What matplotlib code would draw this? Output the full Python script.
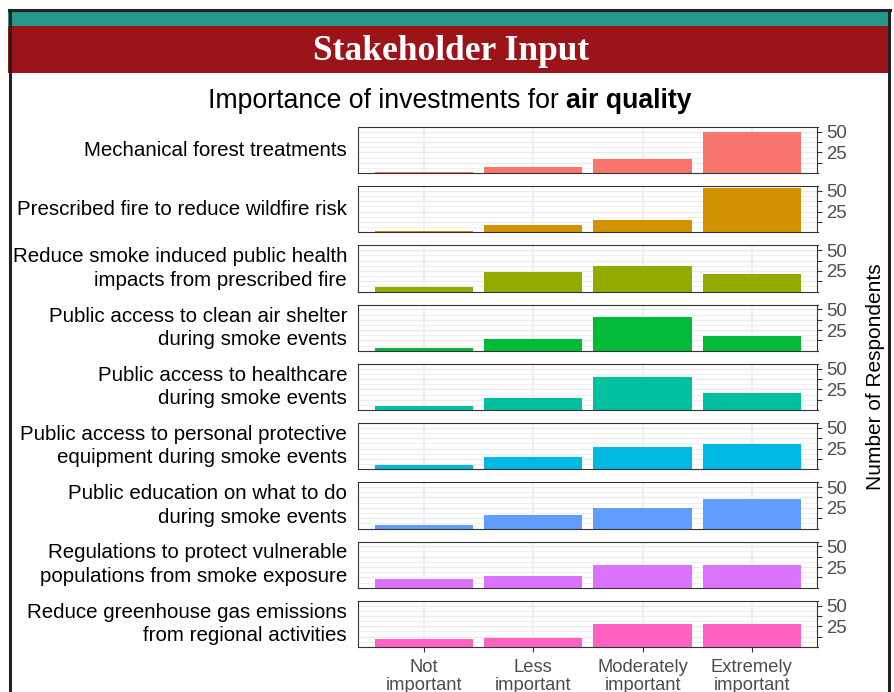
import matplotlib.pyplot as plt
from matplotlib.patches import Rectangle
from matplotlib.lines import Line2D

plt.rcParams['font.family'] = ['Liberation Sans', 'DejaVu Sans']

# Data
items = [
    'Mechanical forest treatments',
    'Prescribed fire to reduce wildfire risk',
    'Reduce smoke induced public health\nimpacts from prescribed fire',
    'Public access to clean air shelter\nduring smoke events',
    'Public access to healthcare\nduring smoke events',
    'Public access to personal protective\nequipment during smoke events',
    'Public education on what to do\nduring smoke events',
    'Regulations to protect vulnerable\npopulations from smoke exposure',
    'Reduce greenhouse gas emissions\nfrom regional activities',
]
levels = ['Not\nimportant', 'Less\nimportant', 'Moderately\nimportant', 'Extremely\nimportant']
not_imp = [2, 2, 5, 4, 5, 5, 4, 10, 10]
less_imp = [8, 9, 24, 14, 14, 15, 16, 14, 11]
mod_imp = [17, 15, 31, 41, 40, 27, 25, 27, 28]
ext_imp = [50, 53, 21, 18, 20, 30, 36, 28, 28]
colors = ['#F8766D', '#D39200', '#93AA00', '#00BA38', '#00C19F',
          '#00B9E3', '#619CFF', '#DB72FB', '#FF61C3']

W, H = 895, 692
fig, axes = plt.subplots(9, 1, figsize=(W / 100, H / 100), dpi=100, sharex=True)
fig.subplots_adjust(left=358.3 / W, right=817.5 / W, top=1 - 127 / H,
                    bottom=1 - 647 / H, hspace=0.283)

x = [1, 2, 3, 4]
for i, ax in enumerate(axes):
    vals = [not_imp[i], less_imp[i], mod_imp[i], ext_imp[i]]
    # grid (theme_bw style)
    for v in x:
        ax.axvline(v, color='#EBEBEB', lw=1.1, zorder=0)
    for k in range(1, 9):
        ax.axhline(k * 6.25, color='#EBEBEB', lw=1.0 if k % 2 == 0 else 0.55, zorder=0)
    ax.bar(x, vals, width=0.9, color=colors[i], zorder=2)
    ax.set_xlim(0.4, 4.6)
    ax.set_ylim(0, 55.65)
    ax.yaxis.tick_right()
    ax.set_yticks([12.5, 25, 37.5, 50])
    ax.set_yticklabels(['', '25', '', '50'])
    ax.tick_params(axis='y', length=3.5, width=0.8, color='#333333',
                   labelcolor='#4D4D4D', labelsize=13.4, pad=3)
    for s in ax.spines.values():
        s.set_color('#333333')
        s.set_linewidth(0.8)
    ax.text(-0.0246, 0.5, items[i], transform=ax.transAxes, ha='right',
            va='center', fontsize=14.8, linespacing=1.3, color='black')
    if i < 8:
        ax.tick_params(axis='x', length=0)

axes[-1].set_xticks(x)
axes[-1].set_xticklabels(levels)
axes[-1].tick_params(axis='x', length=3.5, width=0.8, color='#333333',
                     labelcolor='#4D4D4D', labelsize=13.2, pad=5)
for lab in axes[-1].get_xticklabels():
    lab.set_linespacing(1.1)

fig.text(876 / W, 1 - 377 / H, 'Number of Respondents', rotation=90,
         ha='center', va='center', fontsize=15)

# header bands and frame
fig.add_artist(Rectangle((8 / W, 1 - 26 / H), 881 / W, 15 / H,
                         transform=fig.transFigure, color='#25978B', lw=0))
fig.add_artist(Rectangle((8 / W, 1 - 73 / H), 881 / W, 47 / H,
                         transform=fig.transFigure, color='#9B1419', lw=0))
frame = dict(transform=fig.transFigure, color='#222222', lw=2.2)
fig.add_artist(Line2D([10 / W, 10 / W], [0, 1 - 10 / H], **frame))
fig.add_artist(Line2D([889.5 / W, 889.5 / W], [0, 1 - 10 / H], **frame))
fig.add_artist(Line2D([9 / W, 890.5 / W], [1 - 10 / H, 1 - 10 / H], **frame))

fig.text(451 / W, 1 - 52 / H, 'Stakeholder Input', ha='center', va='center',
         fontsize=25.5, fontweight='bold', color='white',
         family=['Liberation Serif', 'DejaVu Serif'])

# subtitle with bold part
t1 = fig.text(0, 1 - 101 / H, 'Importance of investments for ', ha='left',
              va='center', fontsize=19.2)
t2 = fig.text(0, 1 - 101 / H, 'air quality', ha='left', va='center',
              fontsize=19.2, fontweight='bold')
r = fig.canvas.get_renderer()
w1 = t1.get_window_extent(r).width
w2 = t2.get_window_extent(r).width
x0 = 450 - (w1 + w2) / 2
t1.set_x(x0 / W)
t2.set_x((x0 + w1) / W)

fig.savefig('out.png', dpi=100)
